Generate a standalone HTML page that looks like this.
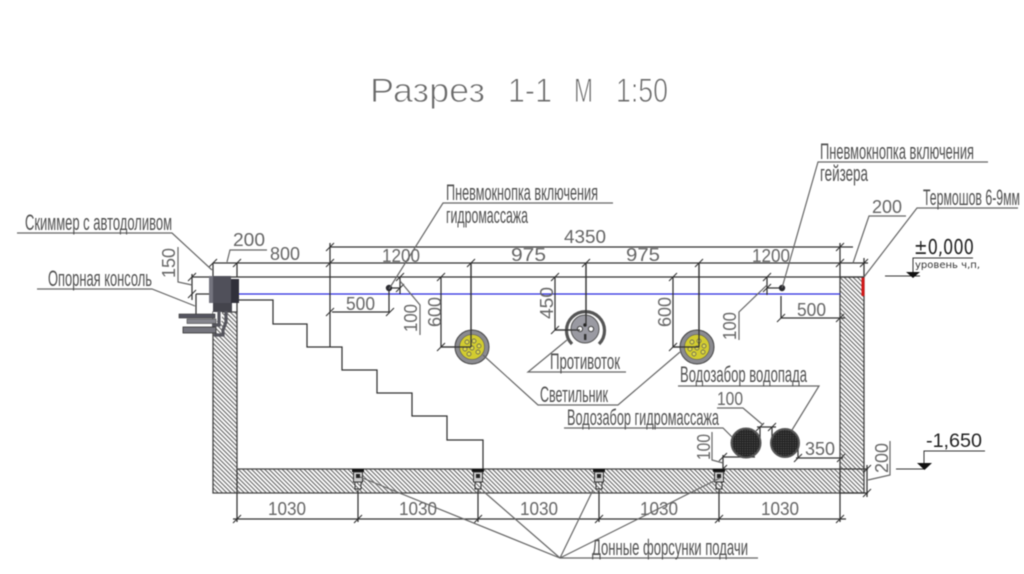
<!DOCTYPE html>
<html><head><meta charset="utf-8">
<style>
html,body{margin:0;padding:0;background:#fff;width:1024px;height:574px;overflow:hidden}
svg{display:block;filter:blur(.5px)}
text{font-family:"Liberation Sans",sans-serif;fill:#666}
.l{font-size:22px;fill:#505050}
.n{font-size:18px;fill:#666}
.ti{font-size:34px;fill:#6a6a6a;stroke:#fff;stroke-width:.9px}
.k{stroke:#333;stroke-width:1.25;fill:none}
.g{stroke:#666;stroke-width:1.2;fill:none}
</style></head><body>
<svg width="1024" height="574" viewBox="0 0 1024 574" xmlns="http://www.w3.org/2000/svg">
<defs>
<pattern id="h" width="3.1" height="3.1" patternUnits="userSpaceOnUse" patternTransform="rotate(-45)"><rect width="3.1" height="3.1" fill="#fff"/><line x1="1" y1="0" x2="1" y2="3.1" stroke="#555" stroke-width="1"/></pattern>
<pattern id="m" width="2.4" height="2.4" patternUnits="userSpaceOnUse"><rect width="2.4" height="2.4" fill="#222"/><rect x=".6" y=".6" width="1" height="1" fill="#666"/></pattern>
<path id="t" d="M-4 4L4 -4" stroke="#333" stroke-width="1.1" fill="none"/>
</defs>
<rect width="1024" height="574" fill="#fff"/>

<!-- title -->
<text class="ti" x="370" y="102" textLength="115" lengthAdjust="spacingAndGlyphs">Разрез</text>
<text class="ti" x="508" y="102" textLength="44" lengthAdjust="spacingAndGlyphs">1-1</text>
<text class="ti" x="574" y="102" textLength="19" lengthAdjust="spacingAndGlyphs">М</text>
<text class="ti" x="616" y="102" textLength="52" lengthAdjust="spacingAndGlyphs">1:50</text>

<!-- pool structure -->
<path d="M213 312H237V469H840V277H864V493H213Z" fill="url(#h)" stroke="#444" stroke-width="1.3"/>
<line x1="237" y1="303" x2="237" y2="312" class="k"/>
<line x1="238" y1="294" x2="840" y2="294" stroke="#2a2ae0" stroke-width="1.2"/>
<rect x="861.5" y="277" width="3" height="19" fill="#d01818"/>
<path class="k" d="M237 300H273V324H307V347H342V370H377V393H412V416H447V440H483V469"/>

<!-- main dimension lines -->
<g class="k">
<path d="M330 247H853"/>
<path d="M213 263H868"/>
<path d="M209 277H864"/>
<path d="M213 263V277M237 263V277M330 243V347M840 243V277M864 258V277"/>
<path d="M471 263V347M586 263V325M699 263V347"/>
<path d="M441 277V347H471M555 277V330H582M673 277V347H699"/>
<path d="M389 288V312H332M400 277V294M389 288H400"/>
<path d="M781 296V318H845M767 277V295M767 288H780"/>
<path d="M237 469V522M358 490V522M478 490V522M599 490V522M719 490V522M840 469V522M233 519H846"/>
<path d="M840 469H868M840 493H868M867 465V497"/>
<path d="M196 294H209M196 294V317H213M192 277H210M192 274V300"/>
<path d="M760 427V443M772 427V443M757 427H776M723 455V469M723 457H755M798 443V458M796 458H843"/>
</g>
<g>
<use href="#t" x="213" y="263"/><use href="#t" x="237" y="263"/><use href="#t" x="330" y="247"/><use href="#t" x="330" y="263"/><use href="#t" x="330" y="312"/>
<use href="#t" x="840" y="247"/><use href="#t" x="840" y="263"/><use href="#t" x="864" y="263"/>
<use href="#t" x="400" y="277"/><use href="#t" x="400" y="288"/><use href="#t" x="390" y="312"/><use href="#t" x="471" y="263"/><use href="#t" x="586" y="263"/><use href="#t" x="699" y="263"/>
<use href="#t" x="441" y="277"/><use href="#t" x="441" y="347"/><use href="#t" x="555" y="277"/><use href="#t" x="555" y="330"/><use href="#t" x="673" y="277"/><use href="#t" x="673" y="347"/>
<use href="#t" x="767" y="277"/><use href="#t" x="767" y="288"/><use href="#t" x="781" y="318"/><use href="#t" x="840" y="318"/>
<use href="#t" x="237" y="519"/><use href="#t" x="358" y="519"/><use href="#t" x="478" y="519"/><use href="#t" x="599" y="519"/><use href="#t" x="719" y="519"/><use href="#t" x="840" y="519"/>
<use href="#t" x="192" y="277"/><use href="#t" x="192" y="294"/>
<use href="#t" x="760" y="427"/><use href="#t" x="772" y="427"/><use href="#t" x="723" y="457"/><use href="#t" x="723" y="469"/><use href="#t" x="798" y="458"/><use href="#t" x="841" y="458"/>
<use href="#t" x="867" y="469"/><use href="#t" x="867" y="493"/>
</g>

<!-- skimmer -->
<g>
<rect x="209" y="276" width="22" height="27" fill="#50505a"/>
<rect x="209" y="276" width="4" height="27" fill="#74747e"/>
<rect x="231" y="279" width="8" height="24" fill="#30303a"/>
<rect x="213" y="303" width="19" height="9" fill="#44444c"/>
<rect x="213" y="312" width="9" height="9" fill="#fff"/>
<path d="M219 311V325H212M226 311V322L223 330V335H214" stroke="#55555d" stroke-width="3.2" fill="none"/>
<rect x="179" y="314" width="36" height="4" fill="#55555f" stroke="#333" stroke-width=".6"/>
<rect x="187" y="319" width="29" height="4.5" fill="#85858d" stroke="#444" stroke-width=".6"/>
<rect x="183" y="327" width="33" height="6" fill="#75757d" stroke="#333" stroke-width=".8"/>
</g>

<!-- nozzles -->
<g>
<g transform="translate(358 0)"><path d="M-6 469H6V472H-6Z" fill="#111"/><rect x="-4.5" y="472" width="9" height="10" fill="#ccc" stroke="#333"/><rect x="-2" y="474" width="4" height="4" fill="#222"/><rect x="-3" y="482" width="6" height="7" fill="none" stroke="#333"/></g>
<g transform="translate(478 0)"><path d="M-6 469H6V472H-6Z" fill="#111"/><rect x="-4.5" y="472" width="9" height="10" fill="#ccc" stroke="#333"/><rect x="-2" y="474" width="4" height="4" fill="#222"/><rect x="-3" y="482" width="6" height="7" fill="none" stroke="#333"/></g>
<g transform="translate(599 0)"><path d="M-6 469H6V472H-6Z" fill="#111"/><rect x="-4.5" y="472" width="9" height="10" fill="#ccc" stroke="#333"/><rect x="-2" y="474" width="4" height="4" fill="#222"/><rect x="-3" y="482" width="6" height="7" fill="none" stroke="#333"/></g>
<g transform="translate(719 0)"><path d="M-6 469H6V472H-6Z" fill="#111"/><rect x="-4.5" y="472" width="9" height="10" fill="#ccc" stroke="#333"/><rect x="-2" y="474" width="4" height="4" fill="#222"/><rect x="-3" y="482" width="6" height="7" fill="none" stroke="#333"/></g>
</g>

<!-- lamps -->
<g>
<circle cx="472" cy="347" r="17" fill="#8b8b90" stroke="#444"/>
<circle cx="472" cy="347" r="12.5" fill="#d2cc30" stroke="#555" stroke-width=".6"/>
<g fill="#dfd94e" stroke="#555" stroke-width=".7"><circle cx="467" cy="342" r="2"/><circle cx="474" cy="341" r="2"/><circle cx="479" cy="346" r="2"/><circle cx="465" cy="349" r="2"/><circle cx="472" cy="348" r="2"/><circle cx="478" cy="352" r="2"/><circle cx="469" cy="354" r="2"/></g>
<circle cx="697" cy="347" r="17" fill="#8b8b90" stroke="#444"/>
<circle cx="697" cy="347" r="12.5" fill="#d2cc30" stroke="#555" stroke-width=".6"/>
<g fill="#dfd94e" stroke="#555" stroke-width=".7"><circle cx="692" cy="342" r="2"/><circle cx="699" cy="341" r="2"/><circle cx="704" cy="346" r="2"/><circle cx="690" cy="349" r="2"/><circle cx="697" cy="348" r="2"/><circle cx="703" cy="352" r="2"/><circle cx="694" cy="354" r="2"/></g>
</g>
<path class="k" d="M441 347H471M673 347H699M471 263V347M699 263V347"/>

<!-- counterflow -->
<g>
<path d="M572 344A19 19 0 1 1 599 344" fill="none" stroke="#555" stroke-width="3.2"/>
<circle cx="585" cy="329" r="14" fill="#9a9aa2" stroke="#555"/>
<circle cx="580" cy="329" r="2.6" fill="#fff" stroke="#444"/>
<circle cx="591" cy="329" r="2.6" fill="#fff" stroke="#444"/>
<rect x="584" y="334" width="2.4" height="6" fill="#333"/>
<circle cx="585" cy="325" r="1.7" fill="#222"/>
</g>
<path class="k" d="M586 263V325M555 330H580"/>

<!-- buttons -->
<circle cx="389" cy="288" r="3.2" fill="#2b2b30"/>
<circle cx="782" cy="288" r="3.2" fill="#2b2b30"/>

<!-- intakes -->
<circle cx="746" cy="443" r="14.5" fill="url(#m)" stroke="#555" stroke-width="2"/>
<circle cx="785" cy="443" r="14" fill="url(#m)" stroke="#555" stroke-width="2"/>

<!-- leaders -->
<g class="g">
<path d="M17 233H172L212 270"/>
<path d="M37 289H152L195 306"/>
<path d="M178 247V282L192 285"/>
<path d="M227 262L230 250H267"/>
<path d="M613 203H443L389 289"/>
<path d="M988 162H818L782 288"/>
<path d="M906 216H869L853 263"/>
<path d="M1018 208H917L864 277"/>
<path d="M400 281L420 305V335"/>
<path d="M767 285L739 312V340"/>
<path d="M626 372H528L567 340"/>
<path d="M483 355L538 405H618L680 352"/>
<path d="M678 386H819L792 430"/>
<path d="M564 428H723L732 437"/>
<path d="M717 408H743L763 425"/>
<path d="M712 432V460L723 463"/>
<path d="M890 441V475L868 480"/>
<path d="M758 558H560L360 477M560 558L483 491M560 558L593 490M560 558L720 478"/>
</g>

<!-- labels -->
<text class="l" x="25" y="230" textLength="147" lengthAdjust="spacingAndGlyphs">Скиммер с автодоливом</text>
<text class="l" x="48" y="286" textLength="104" lengthAdjust="spacingAndGlyphs">Опорная консоль</text>
<text class="l" x="446" y="200" textLength="152" lengthAdjust="spacingAndGlyphs">Пневмокнопка включения</text>
<text class="l" x="446" y="223" textLength="82" lengthAdjust="spacingAndGlyphs">гидромассажа</text>
<text class="l" x="820" y="159" textLength="154" lengthAdjust="spacingAndGlyphs">Пневмокнопка включения</text>
<text class="l" x="820" y="181" textLength="48" lengthAdjust="spacingAndGlyphs">гейзера</text>
<text class="l" x="923" y="205" textLength="97" lengthAdjust="spacingAndGlyphs">Термошов 6-9мм</text>
<text class="l" x="550" y="369" textLength="70" lengthAdjust="spacingAndGlyphs">Противоток</text>
<text class="l" x="540" y="402" textLength="68" lengthAdjust="spacingAndGlyphs">Светильник</text>
<text class="l" x="680" y="382" textLength="127" lengthAdjust="spacingAndGlyphs">Водозабор водопада</text>
<text class="l" x="567" y="425" textLength="152" lengthAdjust="spacingAndGlyphs">Водозабор гидромассажа</text>
<text class="l" x="592" y="555" textLength="156" lengthAdjust="spacingAndGlyphs">Донные форсунки подачи</text>

<!-- dimensions -->
<text class="n" x="233" y="246" textLength="32" lengthAdjust="spacingAndGlyphs">200</text>
<text class="n" x="270" y="260" textLength="30" lengthAdjust="spacingAndGlyphs">800</text>
<text class="n" x="564" y="243" textLength="42" lengthAdjust="spacingAndGlyphs">4350</text>
<text class="n" x="382" y="262" textLength="38" lengthAdjust="spacingAndGlyphs">1200</text>
<text class="n" x="511" y="261" textLength="35" lengthAdjust="spacingAndGlyphs">975</text>
<text class="n" x="626" y="261" textLength="34" lengthAdjust="spacingAndGlyphs">975</text>
<text class="n" x="752" y="262" textLength="38" lengthAdjust="spacingAndGlyphs">1200</text>
<text class="n" x="872" y="213" textLength="30" lengthAdjust="spacingAndGlyphs">200</text>
<text class="n" x="346" y="310" textLength="29" lengthAdjust="spacingAndGlyphs">500</text>
<text class="n" x="797" y="316" textLength="29" lengthAdjust="spacingAndGlyphs">500</text>
<text class="n" x="805" y="455" textLength="30" lengthAdjust="spacingAndGlyphs">350</text>
<text class="n" x="717" y="405" textLength="26" lengthAdjust="spacingAndGlyphs">100</text>
<text class="n" x="268" y="515" textLength="38" lengthAdjust="spacingAndGlyphs">1030</text>
<text class="n" x="399" y="515" textLength="38" lengthAdjust="spacingAndGlyphs">1030</text>
<text class="n" x="520" y="515" textLength="38" lengthAdjust="spacingAndGlyphs">1030</text>
<text class="n" x="640" y="515" textLength="38" lengthAdjust="spacingAndGlyphs">1030</text>
<text class="n" x="761" y="515" textLength="38" lengthAdjust="spacingAndGlyphs">1030</text>
<text class="n" transform="translate(175 278) rotate(-90)" textLength="30" lengthAdjust="spacingAndGlyphs">150</text>
<text class="n" transform="translate(417 332) rotate(-90)" textLength="28" lengthAdjust="spacingAndGlyphs">100</text>
<text class="n" transform="translate(441 327) rotate(-90)" textLength="30" lengthAdjust="spacingAndGlyphs">600</text>
<text class="n" transform="translate(553 319) rotate(-90)" textLength="32" lengthAdjust="spacingAndGlyphs">450</text>
<text class="n" transform="translate(671 327) rotate(-90)" textLength="30" lengthAdjust="spacingAndGlyphs">600</text>
<text class="n" transform="translate(736 340) rotate(-90)" textLength="28" lengthAdjust="spacingAndGlyphs">100</text>
<text class="n" transform="translate(710 460) rotate(-90)" textLength="26" lengthAdjust="spacingAndGlyphs">100</text>
<text class="n" transform="translate(888 473) rotate(-90)" textLength="30" lengthAdjust="spacingAndGlyphs">200</text>

<!-- levels -->
<text x="914" y="254" font-size="20" textLength="60" lengthAdjust="spacingAndGlyphs" style="fill:#222;font-family:'DejaVu Sans',sans-serif">±0,000</text>
<text x="915" y="268" font-size="10" textLength="65" lengthAdjust="spacingAndGlyphs" style="fill:#333;font-family:'DejaVu Sans',sans-serif">уровень ч,п,</text>
<path d="M973 258H913V272" stroke="#333" fill="none"/>
<path d="M885 276H920" stroke="#333"/>
<path d="M906 272H920L913 278Z" fill="#111"/>
<text x="926" y="447" font-size="19" textLength="56" lengthAdjust="spacingAndGlyphs" style="fill:#222">-1,650</text>
<path d="M985 451H924V464M896 469H925" stroke="#333" fill="none"/>
<path d="M917 463H932L924.5 470Z" fill="#111"/>
</svg>
</body></html>
